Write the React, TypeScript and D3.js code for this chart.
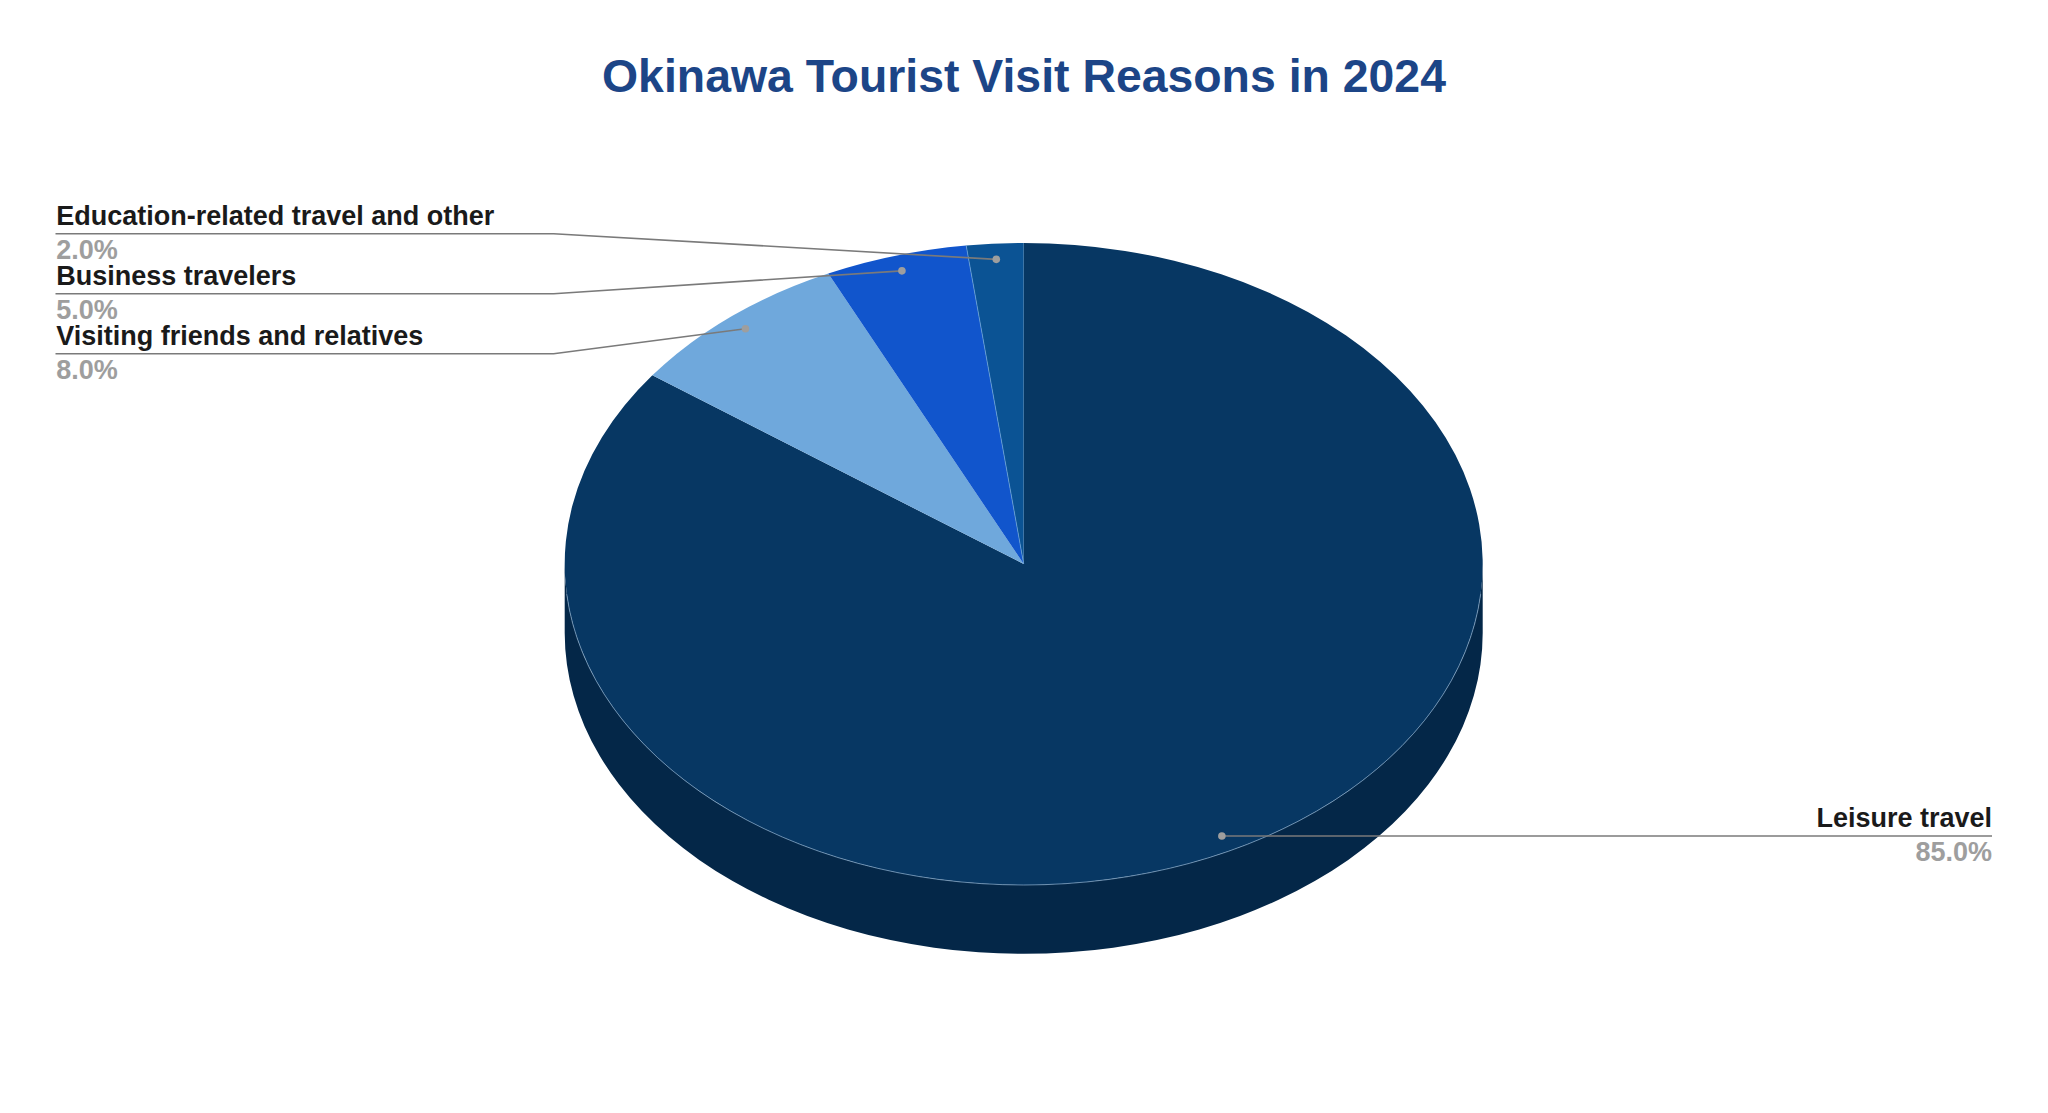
import React from 'react'
import * as d3 from 'd3'

const categories = ['Leisure travel', 'Visiting friends and relatives', 'Business travelers', 'Education-related travel and other']
const shares = [85, 8, 5, 2]
const sliceColors = ['#073763', '#6fa8dc', '#1155cc', '#0b5394']

const title = 'Okinawa Tourist Visit Reasons in 2024'

const width = 2048
const height = 1113
const cx = 1023.7
const cy = 564
const rx = 459
const ry = 321
const depth = 69
const fontFamily = '"Liberation Sans", Arial, sans-serif'

export default function App() {
  const slices = d3.pie<number>().sort(null).startAngle(0).endAngle(Math.PI * 2)(shares)
  const arc = d3.arc<d3.PieArcDatum<number>>().innerRadius(0).outerRadius(rx)
  const rim = d3.arc<any>().innerRadius(rx).outerRadius(rx)({ startAngle: Math.PI * 0.53, endAngle: Math.PI * 1.47 }) as string

  // point on the tilted pie: angle from 12 o'clock, clockwise, f = fraction of the radius
  const project = (a: number, f: number): [number, number] => [cx + rx * f * Math.sin(a), cy - ry * f * Math.cos(a)]

  const wall = `M${cx - rx},${cy}A${rx},${ry} 0 0 0 ${cx + rx},${cy}L${cx + rx},${cy + depth}A${rx},${ry} 0 0 1 ${cx - rx},${cy + depth}Z`

  const leader = d3.line()

  // left labels stack upwards from the last slice, the big slice goes bottom right
  const labels = slices.map((s, i) => {
    const mid = (s.startAngle + s.endAngle) / 2
    const dot = project(mid, 0.951)
    const isLeft = mid > Math.PI
    const lineY = isLeft ? 233.7 + (categories.length - 1 - i) * 60 : dot[1]
    const pts: [number, number][] = isLeft
      ? [dot, [553.6, lineY], [55.5, lineY]]
      : [dot, [1992, lineY]]
    return { name: categories[i], value: shares[i], dot, lineY, isLeft, pts }
  })

  const eduEdge = project(slices[3].startAngle, 1)

  return (
    <svg
      width={width}
      height={height}
      viewBox={`0 0 ${width} ${height}`}
      style={{ position: 'absolute', left: 0, top: 0, display: 'block', background: '#fff' }}
      fontFamily={fontFamily}
    >
      <text x={1024} y={92} textAnchor="middle" fontSize={46.4} fontWeight="bold" fill="#1c4587">
        {title}
      </text>

      <path d={wall} fill="#042748" />
      <g transform={`translate(${cx},${cy}) scale(1,${ry / rx})`}>
        {slices.map((s, i) => (
          <path key={categories[i]} d={arc(s) as string} fill={sliceColors[i]} />
        ))}
        <path d={rim} fill="none" stroke="#8fb3d0" strokeWidth={0.6} strokeOpacity={0.65} vectorEffect="non-scaling-stroke" />
      </g>
      <line x1={cx} y1={cy} x2={eduEdge[0]} y2={eduEdge[1]} stroke="#6fa8dc" strokeWidth={0.7} />

      {labels.map(l => (
        <g key={l.name}>
          <path d={leader(l.pts) as string} fill="none" stroke="#7a7a7a" strokeWidth={1.6} />
          <circle cx={l.dot[0]} cy={l.dot[1]} r={3.8} fill="#9e9e9e" />
          <text
            x={l.isLeft ? 56.2 : 1992}
            y={l.lineY - 8.7}
            textAnchor={l.isLeft ? 'start' : 'end'}
            fontSize={27}
            fontWeight="bold"
            fill="#1a1a1a"
          >
            {l.name}
          </text>
          <text
            x={l.isLeft ? 56.2 : 1992}
            y={l.lineY + 25}
            textAnchor={l.isLeft ? 'start' : 'end'}
            fontSize={27}
            fontWeight="bold"
            fill="#9e9e9e"
          >
            {l.value.toFixed(1)}%
          </text>
        </g>
      ))}
    </svg>
  )
}
